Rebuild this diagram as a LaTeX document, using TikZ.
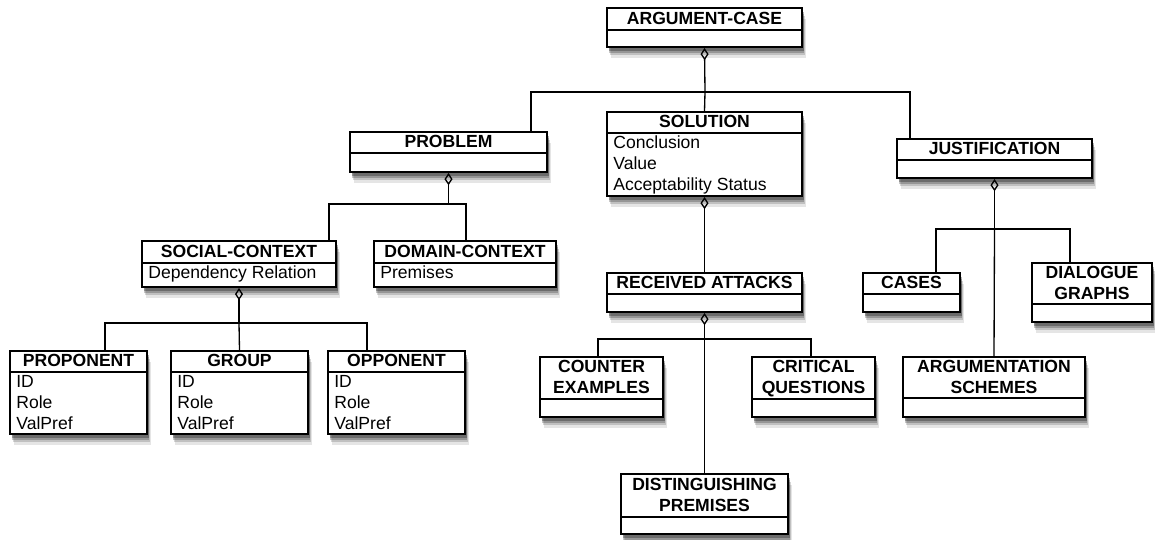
\documentclass[tikz,border=0pt]{standalone}
\usepackage{fontspec}
\setmainfont{Liberation Sans}
\usetikzlibrary{arrows.meta,fit,calc,shadows}

\tikzset{
  umlbox/.style={draw=black,line width=1.1pt,fill=white,inner sep=0pt,
    general shadow={fill=black,opacity=.10,shadow xshift=2.4pt,shadow yshift=-6pt},
    general shadow={fill=black,opacity=.16,shadow xshift=1.9pt,shadow yshift=-4.6pt},
    general shadow={fill=black,opacity=.22,shadow xshift=1.4pt,shadow yshift=-3.3pt},
    general shadow={fill=black,opacity=.28,shadow xshift=1pt,shadow yshift=-2pt}},
  sepline/.style={line width=0.9pt},
  classhead/.style={font=\bfseries\fontsize{10}{11.9}\selectfont,align=center,inner sep=0pt},
  classattrs/.style={font=\fontsize{10}{11.9}\selectfont,align=left,anchor=north west,inner sep=0pt},
  wire/.style={line width=0.75pt},
  aggr/.style={wire,{Diamond[open,length=7pt,width=4.6pt]}-}
}

% name, left, top, right, bottom, header line, title
\newcommand{\umlclass}[7]{%
  \node[umlbox,fit={(#2,#3) (#4,#5)}] (#1) {};
  \draw[sepline] (#2,#6) -- (#4,#6);
  \node[classhead] (#1-head) at ({(#2+#4)/2},{(#3+#6)/2+1}) {#7\vphantom{Q}};
}

\begin{document}
\begin{tikzpicture}[x=0.02cm,y=-0.02cm]
  \useasboundingbox (0,0) rectangle (1155,540);

  % classes
  \umlclass{argcase}{607}{8}{802}{47}{30}{ARGUMENT-CASE}
  \umlclass{problem}{350}{132}{547}{172}{153}{PROBLEM}
  \umlclass{solution}{607}{112}{802}{196}{133}{SOLUTION}
  \umlclass{justif}{897}{139}{1092}{178}{160}{JUSTIFICATION}
  \umlclass{social}{142}{241}{336}{287}{263}{SOCIAL-CONTEXT}
  \umlclass{domain}{374}{241}{556}{287}{263}{DOMAIN-CONTEXT}
  \umlclass{proponent}{10}{351}{147}{434}{372}{PROPONENT}
  \umlclass{group}{171}{351}{308}{434}{372}{GROUP}
  \umlclass{opponent}{328}{351}{465}{434}{372}{OPPONENT}
  \umlclass{received}{607}{273}{802}{312}{294}{RECEIVED ATTACKS}
  \umlclass{counter}{540}{357}{663}{417}{399}{COUNTER\\EXAMPLES}
  \umlclass{critical}{752}{357}{875}{417}{399}{CRITICAL\\QUESTIONS}
  \umlclass{distinguishing}{621}{474}{788}{534}{517}{DISTINGUISHING\\PREMISES}
  \umlclass{cases}{863}{273}{960}{312}{294}{CASES}
  \umlclass{dialogue}{1032}{263}{1152}{322}{304}{DIALOGUE\\GRAPHS}
  \umlclass{schemes}{903}{357}{1085}{417}{398}{ARGUMENTATION\\SCHEMES}

  % attributes
  \node[classattrs] (solution-attrs) at (613,134) {\strut Conclusion\\Value\\Acceptability Status};
  \node[classattrs] (social-attrs) at (148,264) {\strut Dependency Relation};
  \node[classattrs] (domain-attrs) at (380,264) {\strut Premises};
  \node[classattrs] (proponent-attrs) at (16,373) {\strut ID\\Role\\ValPref};
  \node[classattrs] (group-attrs) at (177,373) {\strut ID\\Role\\ValPref};
  \node[classattrs] (opponent-attrs) at (334,373) {\strut ID\\Role\\ValPref};

  % argument-case parts
  \coordinate (acbus) at (705,92);
  \draw[aggr] (argcase.south) -- (acbus);
  \draw[wire] (acbus) -| ($(problem.north east)+(-17,0)$);
  \draw[wire] (acbus) -- (solution.north);
  \draw[wire] (acbus) -| ($(justif.north west)+(14,0)$);

  % problem parts
  \coordinate (probbus) at (448.5,204);
  \draw[aggr] (problem.south) -- (probbus);
  \draw[wire] (probbus) -| ($(social.north east)+(-8,0)$);
  \draw[wire] (probbus) -| ($(domain.north west)+(93,0)$);

  % social context parts
  \coordinate (socbus) at (239,323);
  \draw[aggr] (social.south) -- (socbus);
  \draw[wire] (socbus) -| ($(proponent.north west)+(96,0)$);
  \draw[wire] (socbus) -- (group.north);
  \draw[wire] (socbus) -| ($(opponent.north west)+(40,0)$);

  % solution and attacks
  \draw[aggr] (solution.south) -- (received.north);
  \coordinate (recbus) at (704.5,339);
  \draw[aggr] (received.south) -- (recbus);
  \draw[wire] (recbus) -| ($(counter.north west)+(59,0)$);
  \draw[wire] (recbus) -| ($(critical.north west)+(60,0)$);
  \draw[wire] (recbus) -- (distinguishing.north);

  % justification parts
  \coordinate (jusbus) at (994.5,229);
  \draw[aggr] (justif.south) -- (jusbus);
  \draw[wire] (jusbus) -| ($(cases.north west)+(74,0)$);
  \draw[wire] (jusbus) -| ($(dialogue.north west)+(39,0)$);
  \draw[wire] (jusbus) -- (schemes.north);
\end{tikzpicture}
\end{document}
